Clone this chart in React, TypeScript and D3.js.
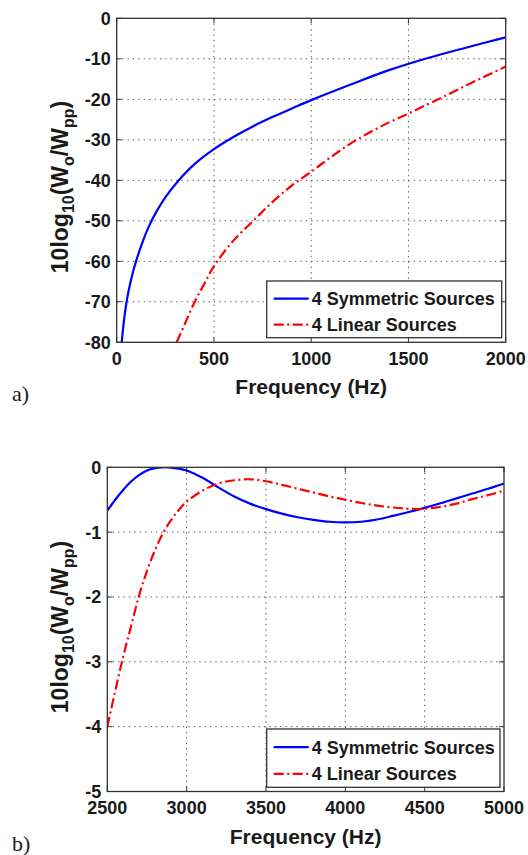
import React from "react";
import * as d3 from "d3";

// ---- Data: panel a) ----
const topFreqSym = [26, 30, 40, 51, 60, 80, 100, 125, 150, 175, 200, 250, 317, 400, 500, 600, 700, 800, 900, 1000, 1200, 1400, 1600, 1800, 2000];
const topSymmetric = [-80, -77.9, -73.6, -70.0, -67.6, -63.3, -59.9, -56.3, -53.1, -50.4, -48.1, -44.2, -40.1, -36.0, -32.3, -29.3, -26.7, -24.4, -22.3, -20.2, -16.4, -12.8, -9.8, -7.2, -4.7];
const topFreqLin = [308, 350, 400, 450, 500, 600, 700, 800, 900, 1000, 1100, 1200, 1300, 1400, 1500, 1600, 1700, 1800, 1900, 2000];
const topLinear = [-80, -75.5, -70.1, -65.6, -61.2, -54.9, -50.1, -45.4, -41.3, -37.9, -34.3, -31.0, -28.2, -25.7, -23.5, -21.2, -18.9, -16.5, -14.2, -11.9];
const topXTicks = [0, 500, 1000, 1500, 2000];
const topYTicks = [0, -10, -20, -30, -40, -50, -60, -70, -80];

// ---- Data: panel b) ----
const botFreq = [2500, 2550, 2600, 2650, 2700, 2750, 2800, 2850, 2900, 2950, 3000, 3100, 3200, 3300, 3400, 3500, 3600, 3700, 3800, 3900, 4000, 4100, 4200, 4300, 4400, 4500, 4600, 4700, 4800, 4900, 5000];
const botSymmetric = [-0.67, -0.5, -0.35, -0.22, -0.12, -0.05, -0.012, 0, -0.004, -0.02, -0.05, -0.16, -0.31, -0.45, -0.56, -0.645, -0.715, -0.77, -0.81, -0.84, -0.85, -0.84, -0.805, -0.75, -0.69, -0.625, -0.555, -0.48, -0.405, -0.33, -0.25];
const botLinear = [-4.0, -3.45, -2.92, -2.45, -1.98, -1.6, -1.28, -1.02, -0.82, -0.66, -0.53, -0.36, -0.25, -0.2, -0.185, -0.215, -0.27, -0.33, -0.39, -0.45, -0.5, -0.55, -0.59, -0.62, -0.64, -0.64, -0.61, -0.56, -0.49, -0.43, -0.36];
const botXTicks = [2500, 3000, 3500, 4000, 4500, 5000];
const botYTicks = [0, -1, -2, -3, -4, -5];

const seriesNames = ["4 Symmetric Sources", "4 Linear Sources"];
const xLabel = "Frequency (Hz)";

const FONT = "'Liberation Sans', Arial, Helvetica, sans-serif";
const INK = "#1a1a1a";
const BLUE = "#0000ff";
const RED = "#ff0000";
const DASHDOT = "10,3.5,2,3.5";

type PanelProps = {
  id: string;
  left: number; right: number; top: number; bottom: number;
  xDomain: [number, number]; yDomain: [number, number];
  xTicks: number[]; yTicks: number[];
  symF: number[]; symV: number[]; linF: number[]; linV: number[];
  legend: { x0: number; x1: number; y0: number; y1: number };
  tag: string; tagY: number; yLabelCenter: number;
};

function Panel(p: PanelProps) {
  const x = d3.scaleLinear().domain(p.xDomain).range([p.left, p.right]);
  const y = d3.scaleLinear().domain(p.yDomain).range([p.bottom, p.top]);
  const line = d3
    .line<[number, number]>()
    .x((d) => x(d[0]))
    .y((d) => y(d[1]))
    .curve(d3.curveCatmullRom.alpha(0.5));
  const sym = line(p.symF.map((f, i) => [f, p.symV[i]] as [number, number])) || "";
  const lin = line(p.linF.map((f, i) => [f, p.linV[i]] as [number, number])) || "";
  const tickLen = 5;
  const lg = p.legend;
  const row1 = lg.y0 + (lg.y1 - lg.y0) * 0.31;
  const row2 = lg.y0 + (lg.y1 - lg.y0) * 0.77;
  const xMid = (p.left + p.right) / 2;
  return (
    <g>
      <defs>
        <clipPath id={"clip-" + p.id}>
          <rect x={p.left} y={p.top} width={p.right - p.left} height={p.bottom - p.top} />
        </clipPath>
      </defs>
      <rect x={p.left} y={p.top} width={p.right - p.left} height={p.bottom - p.top} fill="#fff" />
      {/* grid */}
      {p.xTicks.slice(1, -1).map((t) => (
        <line key={"gx" + t} x1={x(t)} x2={x(t)} y1={p.top} y2={p.bottom} stroke="#555" strokeWidth={1} strokeDasharray="1.4,4" />
      ))}
      {p.yTicks.slice(1, -1).map((t) => (
        <line key={"gy" + t} x1={p.left} x2={p.right} y1={y(t)} y2={y(t)} stroke="#555" strokeWidth={1} strokeDasharray="1.4,4" />
      ))}
      {/* ticks */}
      {p.xTicks.map((t) => (
        <g key={"tx" + t}>
          <line x1={x(t)} x2={x(t)} y1={p.bottom} y2={p.bottom - tickLen} stroke="#333" />
          <line x1={x(t)} x2={x(t)} y1={p.top} y2={p.top + tickLen} stroke="#333" />
          <text x={x(t)} y={p.bottom + 22.5} textAnchor="middle" fontFamily={FONT} fontWeight="bold" fontSize={18} fill={INK}>{t}</text>
        </g>
      ))}
      {p.yTicks.map((t) => (
        <g key={"ty" + t}>
          <line x1={p.left} x2={p.left + tickLen} y1={y(t)} y2={y(t)} stroke="#333" />
          <line x1={p.right} x2={p.right - tickLen} y1={y(t)} y2={y(t)} stroke="#333" />
          <text x={p.left - 6} y={y(t)} dy="0.36em" textAnchor="end" fontFamily={FONT} fontWeight="bold" fontSize={18} fill={INK}>{t}</text>
        </g>
      ))}
      {/* curves */}
      <g clipPath={`url(#clip-${p.id})`}>
        <path d={sym} fill="none" stroke={BLUE} strokeWidth={2.2} />
        <path d={lin} fill="none" stroke={RED} strokeWidth={2.2} strokeDasharray={DASHDOT} />
      </g>
      {/* frame */}
      <rect x={p.left} y={p.top} width={p.right - p.left} height={p.bottom - p.top} fill="none" stroke="#333" strokeWidth={1.3} />
      {/* legend */}
      <rect x={lg.x0} y={lg.y0} width={lg.x1 - lg.x0} height={lg.y1 - lg.y0} fill="#fff" stroke="#333" strokeWidth={1.3} />
      <line x1={lg.x0 + 7} x2={lg.x0 + 42} y1={row1} y2={row1} stroke={BLUE} strokeWidth={2.2} />
      <line x1={lg.x0 + 7} x2={lg.x0 + 42} y1={row2} y2={row2} stroke={RED} strokeWidth={2.2} strokeDasharray={DASHDOT} />
      <text x={lg.x0 + 45} y={row1} dy="0.36em" fontFamily={FONT} fontWeight="bold" fontSize={18} fill={INK}>{seriesNames[0]}</text>
      <text x={lg.x0 + 45} y={row2} dy="0.36em" fontFamily={FONT} fontWeight="bold" fontSize={18} fill={INK}>{seriesNames[1]}</text>
      {/* axis labels */}
      <text x={xMid} y={p.bottom + 52} textAnchor="middle" fontFamily={FONT} fontWeight="bold" fontSize={21} fill={INK}>{xLabel}</text>
      <text transform={`translate(68,${p.yLabelCenter}) rotate(-90)`} textAnchor="middle" fontFamily={FONT} fontWeight="bold" fontSize={23} fill={INK}>
        <tspan>10log</tspan>
        <tspan fontSize={16} dy={6}>10</tspan>
        <tspan dy={-6}>(W</tspan>
        <tspan fontSize={16} dy={6}>o</tspan>
        <tspan dy={-6}>/W</tspan>
        <tspan fontSize={16} dy={6}>pp</tspan>
        <tspan dy={-6}>)</tspan>
      </text>
      <text x={12} y={p.tagY} fontFamily="'Liberation Serif', 'Times New Roman', serif" fontSize={22} fill={INK}>{p.tag}</text>
    </g>
  );
}

export default function App() {
  return (
    <svg width={528} height={855} style={{ position: "absolute", left: 0, top: 0, background: "#fff" }}>
      <rect x={0} y={0} width={528} height={855} fill="#fff" />
      <Panel
        id="a"
        left={116.7} right={505.7} top={18.3} bottom={342.3}
        xDomain={[0, 2000]} yDomain={[-80, 0]}
        xTicks={topXTicks} yTicks={topYTicks}
        symF={topFreqSym} symV={topSymmetric} linF={topFreqLin} linV={topLinear}
        legend={{ x0: 266.7, x1: 501.7, y0: 281, y1: 337.7 }}
        tag="a)" tagY={401} yLabelCenter={187}
      />
      <Panel
        id="b"
        left={107.3} right={504} top={467.3} bottom={791.5}
        xDomain={[2500, 5000]} yDomain={[-5, 0]}
        xTicks={botXTicks} yTicks={botYTicks}
        symF={botFreq} symV={botSymmetric} linF={botFreq} linV={botLinear}
        legend={{ x0: 266.7, x1: 500, y0: 729, y1: 787.3 }}
        tag="b)" tagY={851} yLabelCenter={627}
      />
    </svg>
  );
}
